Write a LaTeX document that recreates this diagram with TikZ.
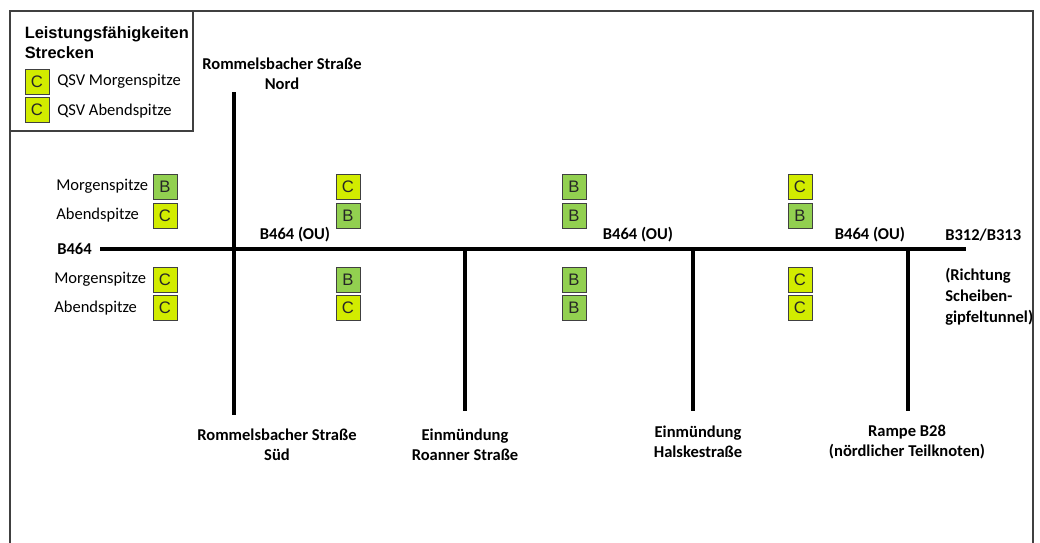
\documentclass[tikz,border=0pt]{standalone}
\usepackage{fontspec}
\setmainfont{Carlito}
\newfontfamily\arialfont{Liberation Sans}
\definecolor{losB}{HTML}{92D050}
\definecolor{losC}{HTML}{D2EC00}
\definecolor{frameGrey}{HTML}{404040}
\begin{document}
\begin{tikzpicture}[x=0.75pt,y=-0.75pt,
  road/.style={line width=2.3pt,black},
  los/.style={draw=frameGrey,line width=0.6pt,minimum width=18pt,minimum height=18.6pt,inner sep=0pt,
    font=\arialfont\fontsize{12.5}{14}\selectfont,text=black!85},
  losb/.style={los,fill=losB},
  losc/.style={los,fill=losC},
  lbl/.style={font=\fontsize{12.4}{15}\selectfont,inner sep=0pt,anchor=west},
  roadname/.style={font=\bfseries\fontsize{12.4}{15}\selectfont,inner sep=0pt,align=center},
  legtitle/.style={font=\arialfont\bfseries\fontsize{12.3}{15}\selectfont,inner sep=0pt,align=left,anchor=north west}]
\useasboundingbox (0,0) rectangle (1040,543);
% outer frame and legend frame
\draw[frameGrey,line width=0.8pt] (10,560) -- (10,11) -- (1033,11) -- (1033,560);
\draw[frameGrey,line width=0.8pt] (10,131) -- (193,131) -- (193,11);

% legend
\node[legtitle] (legT) at (24.5,26) {Leistungsfähigkeiten\\Strecken};
\node[losc] (legC1) at (37,81.5) {C};
\node[losc] (legC2) at (37,109.5) {C};
\node[lbl] (legM) at (57,81.5) {QSV Morgenspitze};
\node[lbl] (legA) at (57,111) {QSV Abendspitze};

% road network
\coordinate (w) at (100,249);
\coordinate (e) at (966,249);
\coordinate (n1) at (234,92);
\coordinate (s1) at (234,415);
\coordinate (j2) at (465,249);
\coordinate (s2) at (465,411);
\coordinate (j3) at (693,249);
\coordinate (s3) at (693,411);
\coordinate (j4) at (908,249);
\coordinate (s4) at (908,411);
\draw[road] (w) -- (e);
\draw[road] (n1) -- (s1);
\draw[road] (j2) -- (s2);
\draw[road] (j3) -- (s3);
\draw[road] (j4) -- (s4);

% road names
\node[roadname] (nord) at (282,74) {Rommelsbacher Straße\\Nord};
\node[roadname,anchor=west] (b464) at (57,249) {B464};
\node[roadname] (ou1) at (295,235) {B464 (OU)};
\node[roadname] (ou2) at (638,235) {B464 (OU)};
\node[roadname] (ou3) at (870,235) {B464 (OU)};
\node[roadname,anchor=west] (b312) at (945,235) {B312/B313};
\node[roadname,align=left,anchor=north west,font=\bfseries\fontsize{12.4}{15.6}\selectfont] (richt) at (945,268) {(Richtung\\Scheiben-\\gipfeltunnel)};
\node[roadname] (sued) at (277,445) {Rommelsbacher Straße\\Süd};
\node[roadname] (roan) at (465,445) {Einmündung\\Roanner Straße};
\node[roadname] (hals) at (698,442) {Einmündung\\Halskestraße};
\node[roadname] (rampe) at (907,442) {Rampe B28\\(nördlicher Teilknoten)};

% peak-hour labels
\node[lbl] (m1) at (56,186.5) {Morgenspitze};
\node[lbl] (a1) at (56,215.5) {Abendspitze};
\node[lbl] (m2) at (54,279.5) {Morgenspitze};
\node[lbl] (a2) at (54,308) {Abendspitze};

% level-of-service boxes, column 1
\node[losb] (b11) at (165,186.5) {B};
\node[losc] (b12) at (165,215.5) {C};
\node[losc] (b13) at (165,279.5) {C};
\node[losc] (b14) at (165,307.5) {C};
% column 2
\node[losc] (b21) at (348,186.5) {C};
\node[losb] (b22) at (348,215.5) {B};
\node[losb] (b23) at (348,279.5) {B};
\node[losc] (b24) at (348,307.5) {C};
% column 3
\node[losb] (b31) at (574,186.5) {B};
\node[losb] (b32) at (574,215.5) {B};
\node[losb] (b33) at (574,279.5) {B};
\node[losb] (b34) at (574,307.5) {B};
% column 4
\node[losc] (b41) at (800,186.5) {C};
\node[losb] (b42) at (800,215.5) {B};
\node[losc] (b43) at (800,279.5) {C};
\node[losc] (b44) at (800,307.5) {C};
\end{tikzpicture}
\end{document}
